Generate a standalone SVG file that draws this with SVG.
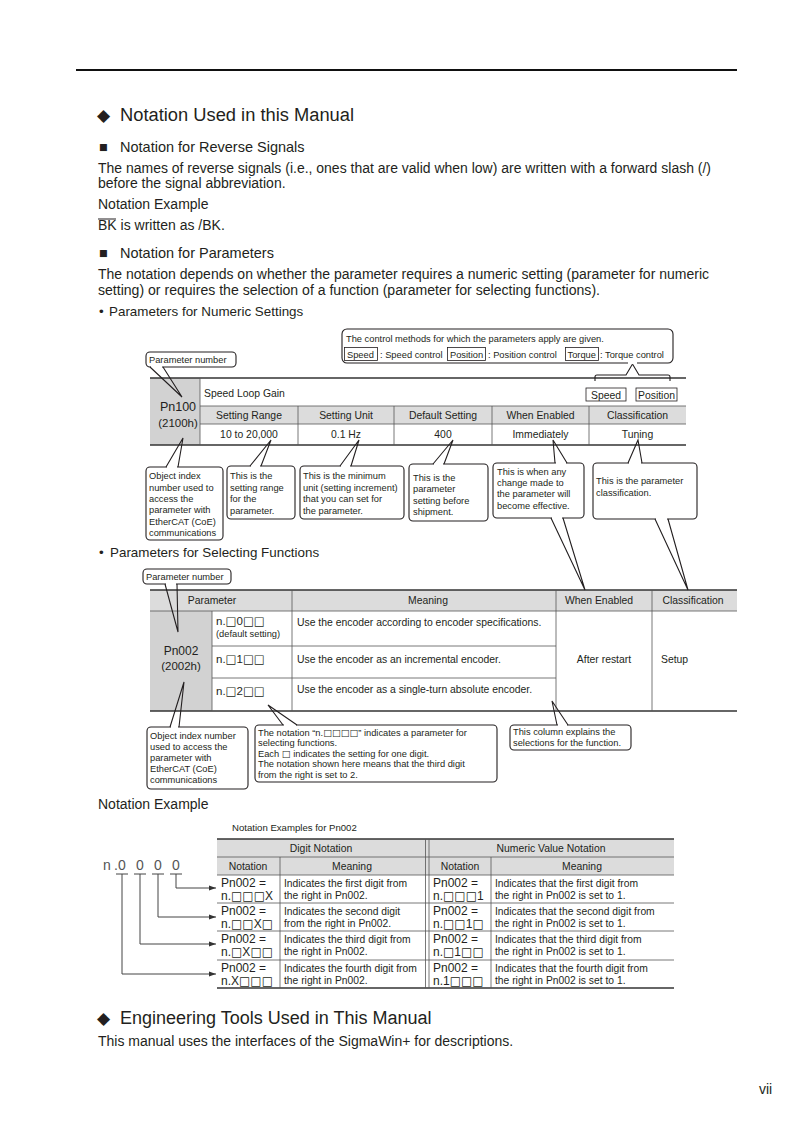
<svg xmlns="http://www.w3.org/2000/svg" width="793" height="1122" viewBox="0 0 793 1122">
<defs>
<style>
text{font-family:"Liberation Sans","DejaVu Sans",Arial,sans-serif;fill:#231f20}
.h1{font-size:18px}
.h2{font-size:14.5px}
.b{font-size:14px}
.sb{font-size:13.4px}
.t{font-size:10.4px}
.c{font-size:9.3px}
.m{text-anchor:middle}
.sq{font-family:"DejaVu Sans",sans-serif}
.box{fill:#fff;stroke:#231f20;stroke-width:1.1}
.tag{fill:none;stroke:#231f20;stroke-width:0.8}
.ptr{fill:none;stroke:#231f20;stroke-width:1.1}
.gap{stroke:#fff;stroke-width:2.2}
.tl{stroke:#555;stroke-width:0.8;fill:none}
.tk{stroke:#333;stroke-width:1.3;fill:none}
.g1{fill:#d2d2d2}
.g2{fill:#dcdcdc}
.ld{fill:none;stroke:#444;stroke-width:1}
</style>
<marker id="ah" viewBox="0 0 10 10" refX="10" refY="5" markerWidth="7" markerHeight="7" orient="auto" markerUnits="userSpaceOnUse"><path d="M0,1.5 L10,5 L0,8.5 z" fill="#333"/></marker>
</defs>
<rect width="793" height="1122" fill="#fff"/>
<line x1="76" y1="70" x2="737" y2="70" stroke="#111" stroke-width="2"/>

<g id="text-top">
<text x="97" y="121" style="font-size:17px;font-family:'DejaVu Sans',sans-serif">◆</text>
<text x="120" y="121" class="h1" textLength="234" lengthAdjust="spacingAndGlyphs">Notation Used in this Manual</text>
<text x="99" y="152" class="h2">■</text>
<text x="120" y="152" class="h2">Notation for Reverse Signals</text>
<text x="98" y="173" class="b" textLength="613" lengthAdjust="spacingAndGlyphs">The names of reverse signals (i.e., ones that are valid when low) are written with a forward slash (/)</text>
<text x="98" y="188" class="b">before the signal abbreviation.</text>
<text x="98" y="209" class="b">Notation Example</text>
<text x="98" y="230" class="b">BK is written as /BK.</text>
<line x1="98" y1="219" x2="116" y2="219" stroke="#231f20" stroke-width="1"/>
<text x="99" y="258" class="h2">■</text>
<text x="120" y="258" class="h2">Notation for Parameters</text>
<text x="98" y="279" class="b" textLength="611" lengthAdjust="spacingAndGlyphs">The notation depends on whether the parameter requires a numeric setting (parameter for numeric</text>
<text x="98" y="295" class="b" textLength="502" lengthAdjust="spacingAndGlyphs">setting) or requires the selection of a function (parameter for selecting functions).</text>
<text x="99" y="316" class="sb">•</text>
<text x="109" y="316" class="sb">Parameters for Numeric Settings</text>
</g>

<g id="table-pn100">
<rect x="150" y="378" width="50" height="67" class="g1"/>
<rect x="200" y="406" width="486" height="18" class="g2"/>
<line x1="150" y1="378" x2="686" y2="378" class="tk"/>
<line x1="150" y1="445" x2="686" y2="445" class="tk"/>
<line x1="200" y1="378" x2="200" y2="445" class="tl"/>
<line x1="200" y1="406" x2="686" y2="406" class="tl"/>
<line x1="200" y1="424" x2="686" y2="424" class="tl"/>
<line x1="298" y1="406" x2="298" y2="445" class="tl"/>
<line x1="394" y1="406" x2="394" y2="445" class="tl"/>
<line x1="492" y1="406" x2="492" y2="445" class="tl"/>
<line x1="589" y1="406" x2="589" y2="445" class="tl"/>
<text x="178" y="411" class="m" style="font-size:12.5px">Pn100</text>
<text x="178" y="427" class="m" style="font-size:11.5px">(2100h)</text>
<text x="204" y="397" class="t">Speed Loop Gain</text>
<rect x="586" y="388" width="40" height="13" class="tag"/>
<text x="606" y="398.5" class="m t">Speed</text>
<rect x="636" y="388" width="41" height="13" class="tag"/>
<text x="656.5" y="398.5" class="m t">Position</text>
<text x="249" y="419" class="m t">Setting Range</text>
<text x="346" y="419" class="m t">Setting Unit</text>
<text x="443" y="419" class="m t">Default Setting</text>
<text x="540.5" y="419" class="m t">When Enabled</text>
<text x="637.5" y="419" class="m t">Classification</text>
<text x="249" y="438" class="m t">10 to 20,000</text>
<text x="346" y="438" class="m t">0.1 Hz</text>
<text x="443" y="438" class="m t">400</text>
<text x="540.5" y="438" class="m t">Immediately</text>
<text x="637.5" y="438" class="m t">Tuning</text>
</g>

<g id="callout-control">
<rect x="342" y="329" width="331" height="34" rx="5" class="box"/>
<text x="346" y="342" class="c">The control methods for which the parameters apply are given.</text>
<rect x="344.5" y="347.5" width="33" height="13" class="tag"/>
<text x="347" y="357.5" class="c">Speed</text>
<text x="380" y="357.5" class="c">: Speed control</text>
<rect x="447.5" y="347.5" width="38" height="13" class="tag"/>
<text x="450" y="357.5" class="c">Position</text>
<text x="488" y="357.5" class="c">: Position control</text>
<rect x="565.5" y="347.5" width="33" height="13" class="tag"/>
<text x="567.5" y="357.5" class="c">Torque</text>
<text x="600" y="357.5" class="c">: Torque control</text>
</g>

<g id="callout-param-number-1">
<rect x="146" y="352" width="90" height="15" rx="4" class="box"/>
<text x="149" y="363" class="c">Parameter number</text>
</g>

<g id="callout-object-index-1">
<rect x="146" y="467" width="77" height="73" rx="4" class="box"/>
<text x="149" y="479" class="c">Object index</text>
<text x="149" y="491" class="c">number used to</text>
<text x="149" y="502" class="c">access the</text>
<text x="149" y="513" class="c">parameter with</text>
<text x="149" y="525" class="c">EtherCAT (CoE)</text>
<text x="149" y="536" class="c">communications</text>
</g>
<g id="callout-range">
<rect x="227" y="466" width="68" height="53" rx="4" class="box"/>
<text x="230" y="479" class="c">This is the</text>
<text x="230" y="491" class="c">setting range</text>
<text x="230" y="502" class="c">for the</text>
<text x="230" y="514" class="c">parameter.</text>
</g>
<g id="callout-unit">
<rect x="300" y="466" width="104" height="53" rx="4" class="box"/>
<text x="303" y="479" class="c">This is the minimum</text>
<text x="303" y="491" class="c">unit (setting increment)</text>
<text x="303" y="502" class="c">that you can set for</text>
<text x="303" y="514" class="c">the parameter.</text>
</g>
<g id="callout-default">
<rect x="409" y="464" width="79" height="57" rx="4" class="box"/>
<text x="413" y="481" class="c">This is the</text>
<text x="413" y="492" class="c">parameter</text>
<text x="413" y="504" class="c">setting before</text>
<text x="413" y="515" class="c">shipment.</text>
</g>
<g id="callout-enabled">
<rect x="493" y="463" width="91" height="55" rx="4" class="box"/>
<text x="497" y="475" class="c">This is when any</text>
<text x="497" y="486" class="c">change made to</text>
<text x="497" y="497" class="c">the parameter will</text>
<text x="497" y="509" class="c">become effective.</text>
</g>
<g id="callout-class">
<rect x="593" y="463" width="104" height="56" rx="4" class="box"/>
<text x="596" y="484" class="c">This is the parameter</text>
<text x="596" y="496" class="c">classification.</text>
</g>

<g id="text-mid">
<text x="99" y="557" class="sb">•</text>
<text x="110" y="557" class="sb">Parameters for Selecting Functions</text>
</g>

<g id="table-pn002">
<rect x="150" y="590" width="587" height="21" class="g2"/>
<rect x="150" y="611" width="62" height="100" class="g1"/>
<line x1="150" y1="590" x2="737" y2="590" class="tk"/>
<line x1="150" y1="711" x2="737" y2="711" class="tk"/>
<line x1="150" y1="611" x2="737" y2="611" class="tl"/>
<line x1="212" y1="646" x2="556" y2="646" class="tl"/>
<line x1="212" y1="678" x2="556" y2="678" class="tl"/>
<line x1="212" y1="611" x2="212" y2="711" class="tl"/>
<line x1="292" y1="590" x2="292" y2="711" class="tl"/>
<line x1="556" y1="590" x2="556" y2="711" class="tl"/>
<line x1="652" y1="590" x2="652" y2="711" class="tl"/>
<text x="212" y="604" class="m t">Parameter</text>
<text x="428" y="604" class="m t">Meaning</text>
<text x="599" y="604" class="m t">When Enabled</text>
<text x="693" y="604" class="m t">Classification</text>
<text x="181" y="655" class="m" style="font-size:12px">Pn002</text>
<text x="181" y="670" class="m" style="font-size:11.5px">(2002h)</text>
<text x="216" y="625" style="font-size:11.5px">n.<tspan class="sq">□</tspan>0<tspan class="sq">□□</tspan></text>
<text x="216" y="637" class="c">(default setting)</text>
<text x="216" y="663" style="font-size:11.5px">n.<tspan class="sq">□</tspan>1<tspan class="sq">□□</tspan></text>
<text x="216" y="695" style="font-size:11.5px">n.<tspan class="sq">□</tspan>2<tspan class="sq">□□</tspan></text>
<text x="297" y="626" class="t">Use the encoder according to encoder specifications.</text>
<text x="297" y="663" class="t">Use the encoder as an incremental encoder.</text>
<text x="297" y="693" class="t">Use the encoder as a single-turn absolute encoder.</text>
<text x="604" y="663" class="m t">After restart</text>
<text x="661" y="663" class="t">Setup</text>
</g>

<g id="callout-param-number-2">
<rect x="143" y="569" width="88" height="15" rx="4" class="box"/>
<text x="146" y="580" class="c">Parameter number</text>
</g>
<g id="callout-object-index-2">
<rect x="147" y="727" width="101" height="62" rx="4" class="box"/>
<text x="150" y="739" class="c">Object index number</text>
<text x="150" y="750" class="c">used to access the</text>
<text x="150" y="761" class="c">parameter with</text>
<text x="150" y="772" class="c">EtherCAT (CoE)</text>
<text x="150" y="783" class="c">communications</text>
</g>
<g id="callout-notation">
<rect x="255" y="725" width="242" height="57" rx="4" class="box"/>
<text x="258" y="736" class="c">The notation “n.<tspan class="sq">□□□□</tspan>” indicates a parameter for</text>
<text x="258" y="746" class="c">selecting functions.</text>
<text x="258" y="757" class="c">Each <tspan class="sq">□</tspan> indicates the setting for one digit.</text>
<text x="258" y="767" class="c">The notation shown here means that the third digit</text>
<text x="258" y="778" class="c">from the right is set to 2.</text>
</g>
<g id="callout-column">
<rect x="510" y="725" width="121" height="25" rx="4" class="box"/>
<text x="513" y="735" class="c">This column explains the</text>
<text x="513" y="746" class="c">selections for the function.</text>
</g>

<g id="text-example">
<text x="98" y="809" class="b">Notation Example</text>
<text x="232" y="831" style="font-size:9.6px">Notation Examples for Pn002</text>
</g>

<g id="digits">
<text x="103" y="870" style="font-size:14px;fill:#555">n</text>
<text x="114" y="870" style="font-size:14px;fill:#555">.</text>
<text x="122" y="870" class="m" style="font-size:14px;fill:#555">0</text>
<text x="140" y="870" class="m" style="font-size:14px;fill:#555">0</text>
<text x="158" y="870" class="m" style="font-size:14px;fill:#555">0</text>
<text x="176" y="870" class="m" style="font-size:14px;fill:#555">0</text>
<line x1="116" y1="874" x2="128" y2="874" class="ld"/>
<line x1="134" y1="874" x2="146" y2="874" class="ld"/>
<line x1="152" y1="874" x2="164" y2="874" class="ld"/>
<line x1="170" y1="874" x2="182" y2="874" class="ld"/>
</g>

<g id="table-examples">
<rect x="217" y="839" width="457" height="36" class="g2"/>
<line x1="217" y1="839" x2="674" y2="839" class="tk"/>
<line x1="217" y1="857" x2="674" y2="857" class="tl"/>
<line x1="217" y1="875" x2="674" y2="875" class="tl"/>
<line x1="217" y1="903" x2="674" y2="903" class="tl"/>
<line x1="217" y1="931" x2="674" y2="931" class="tl"/>
<line x1="217" y1="960" x2="674" y2="960" class="tl"/>
<line x1="217" y1="988" x2="674" y2="988" class="tk"/>
<line x1="425.5" y1="839" x2="425.5" y2="988" class="tl"/>
<line x1="429" y1="839" x2="429" y2="988" class="tl"/>
<line x1="280" y1="857" x2="280" y2="988" class="tl"/>
<line x1="491" y1="857" x2="491" y2="988" class="tl"/>
<text x="321" y="852" class="m t">Digit Notation</text>
<text x="551" y="852" class="m t">Numeric Value Notation</text>
<text x="248" y="870" class="m t">Notation</text>
<text x="352" y="870" class="m t">Meaning</text>
<text x="460" y="870" class="m t">Notation</text>
<text x="582" y="870" class="m t">Meaning</text>
<g style="font-size:12px">
<text x="221" y="887">Pn002 =</text><text x="221" y="900">n.<tspan class="sq">□□□</tspan>X</text>
<text x="221" y="915">Pn002 =</text><text x="221" y="928">n.<tspan class="sq">□□</tspan>X<tspan class="sq">□</tspan></text>
<text x="221" y="943">Pn002 =</text><text x="221" y="956">n.<tspan class="sq">□</tspan>X<tspan class="sq">□□</tspan></text>
<text x="221" y="972">Pn002 =</text><text x="221" y="985">n.X<tspan class="sq">□□□</tspan></text>
<text x="433" y="887">Pn002 =</text><text x="433" y="900">n.<tspan class="sq">□□□</tspan>1</text>
<text x="433" y="915">Pn002 =</text><text x="433" y="928">n.<tspan class="sq">□□</tspan>1<tspan class="sq">□</tspan></text>
<text x="433" y="943">Pn002 =</text><text x="433" y="956">n.<tspan class="sq">□</tspan>1<tspan class="sq">□□</tspan></text>
<text x="433" y="972">Pn002 =</text><text x="433" y="985">n.1<tspan class="sq">□□□</tspan></text>
</g>
<g style="font-size:10.3px">
<text x="284" y="887">Indicates the first digit from</text><text x="284" y="899">the right in Pn002.</text>
<text x="284" y="915">Indicates the second digit</text><text x="284" y="927">from the right in Pn002.</text>
<text x="284" y="943">Indicates the third digit from</text><text x="284" y="955">the right in Pn002.</text>
<text x="284" y="972">Indicates the fourth digit from</text><text x="284" y="984">the right in Pn002.</text>
<text x="495" y="887">Indicates that the first digit from</text><text x="495" y="899">the right in Pn002 is set to 1.</text>
<text x="495" y="915">Indicates that the second digit from</text><text x="495" y="927">the right in Pn002 is set to 1.</text>
<text x="495" y="943">Indicates that the third digit from</text><text x="495" y="955">the right in Pn002 is set to 1.</text>
<text x="495" y="972">Indicates that the fourth digit from</text><text x="495" y="984">the right in Pn002 is set to 1.</text>
</g>
</g>

<g id="connectors">
<path class="ptr" d="M595,381 V377 Q595,375 597,375 H626 L632.5,364 L639,375 H668 Q670,375 670,377 V381"/>
<line x1="628" y1="363" x2="637" y2="363" class="gap"/>
<line x1="151" y1="367" x2="162" y2="367" class="gap"/>
<polyline class="ptr" points="150,367 182,397 163,367"/>
<line x1="167" y1="467" x2="177" y2="467" class="gap"/>
<polyline class="ptr" points="166,467 183,438 178,467"/>
<line x1="251" y1="466" x2="260" y2="466" class="gap"/>
<polyline class="ptr" points="250,466 271,440 261,466"/>
<line x1="341" y1="466" x2="350" y2="466" class="gap"/>
<polyline class="ptr" points="340,466 359,440 351,466"/>
<line x1="434" y1="464" x2="443" y2="464" class="gap"/>
<polyline class="ptr" points="433,464 453,440 444,464"/>
<line x1="556" y1="463" x2="566" y2="463" class="gap"/>
<polyline class="ptr" points="555,463 553,440 567,463"/>
<line x1="552" y1="518" x2="562" y2="518" class="gap"/>
<polyline class="ptr" points="551,518 585,590 563,518"/>
<line x1="629" y1="463" x2="641" y2="463" class="gap"/>
<polyline class="ptr" points="628,463 638,440 642,463"/>
<line x1="656" y1="519" x2="667" y2="519" class="gap"/>
<polyline class="ptr" points="655,519 688,590 668,519"/>
<line x1="166" y1="584" x2="176" y2="584" class="gap"/>
<polyline class="ptr" points="165,584 178,632 177,584"/>
<line x1="171" y1="727" x2="178" y2="727" class="gap"/>
<polyline class="ptr" points="170,727 184,682 179,727"/>
<line x1="284" y1="725" x2="296" y2="725" class="gap"/>
<polyline class="ptr" points="283,725 268,705 297,725"/>
<line x1="558" y1="725" x2="567" y2="725" class="gap"/>
<polyline class="ptr" points="557,725 552,701 568,725"/>
<polyline class="ld" points="176,874 176,888 216,888" marker-end="url(#ah)"/>
<polyline class="ld" points="158,874 158,917 216,917" marker-end="url(#ah)"/>
<polyline class="ld" points="140,874 140,944 216,944" marker-end="url(#ah)"/>
<polyline class="ld" points="122,874 122,974 216,974" marker-end="url(#ah)"/>
</g>

<g id="text-bottom">
<text x="97" y="1024" style="font-size:17px;font-family:'DejaVu Sans',sans-serif">◆</text>
<text x="120" y="1024" class="h1">Engineering Tools Used in This Manual</text>
<text x="98" y="1046" class="b">This manual uses the interfaces of the SigmaWin+ for descriptions.</text>
<text x="759" y="1094" class="b">vii</text>
</g>
</svg>
